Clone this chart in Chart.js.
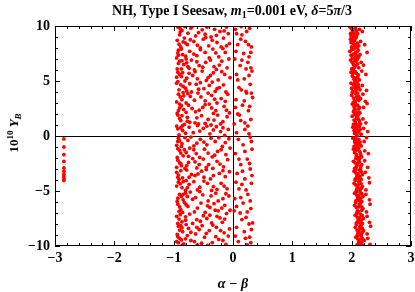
<!DOCTYPE html>
<html>
<head>
<meta charset="utf-8">
<script src="https://cdn.jsdelivr.net/npm/chart.js@4.4.1/dist/chart.umd.min.js"></script>
<style>
  body { margin: 0; background: #fff; }
  #c { display: block; }
</style>
</head>
<body>
<canvas id="c" width="415" height="292"></canvas>
<script>
// axis ranges and ticks
const xRange = [-3, 3];
const yRange = [-10, 10];
const xTickStep = 1;
const yTickStep = 5;

// the short column near alpha-beta = -2.85
const tailPoints = [
  [-2.85, -0.27], [-2.85, -1.0], [-2.85, -1.7], [-2.85, -2.3], [-2.85, -2.9],
  [-2.85, -3.2], [-2.85, -3.5], [-2.85, -3.7], [-2.85, -3.9], [-2.85, -4.05]
];

// wide band just left of zero
const midBand = [
  [-0.93,9.9],[-0.86,9.6],[-0.71,9.8],[-0.58,9.4],[-0.44,9.9],[-0.31,9.7],[-0.22,9.5],[-0.11,9.9],[-0.9,9.2],[-0.63,9.1],[-0.37,9.0],[-0.08,9.3],
  [-0.94,8.7],[-0.82,8.9],[-0.77,8.3],[-0.66,8.6],[-0.5,8.8],[-0.41,8.2],[-0.27,8.5],[-0.16,8.9],[-0.06,8.4],[-0.88,8.1],[-0.55,8.0],[-0.2,8.1],
  [-0.92,7.8],[-0.85,7.4],[-0.73,7.7],[-0.61,7.3],[-0.47,7.6],[-0.34,7.9],[-0.24,7.2],[-0.13,7.6],[-0.95,7.1],[-0.79,7.0],[-0.4,7.1],[-0.07,7.0],
  [-0.9,6.8],[-0.83,6.5],[-0.7,6.9],[-0.57,6.4],[-0.46,6.7],[-0.32,6.3],[-0.19,6.8],[-0.1,6.2],[-0.94,6.1],[-0.65,6.0],[-0.28,6.05],[-0.76,6.3],
  [-0.93,5.8],[-0.87,5.4],[-0.74,5.7],[-0.6,5.2],[-0.52,5.9],[-0.38,5.5],[-0.25,5.1],[-0.14,5.6],[-0.05,5.3],[-0.81,5.0],[-0.45,5.05],[-0.68,5.5],
  [-0.95,4.8],[-0.84,4.5],[-0.78,4.1],[-0.62,4.7],[-0.49,4.3],[-0.35,4.9],[-0.23,4.4],[-0.12,4.0],[-0.91,4.2],[-0.7,4.0],[-0.3,4.05],[-0.55,4.85],
  [-0.92,3.8],[-0.86,3.3],[-0.72,3.6],[-0.59,3.9],[-0.47,3.2],[-0.36,3.7],[-0.2,3.4],[-0.09,3.8],[-0.95,3.1],[-0.79,3.0],[-0.65,3.25],[-0.27,3.0],
  [-0.9,2.9],[-0.83,2.4],[-0.75,2.8],[-0.63,2.2],[-0.51,2.6],[-0.4,2.9],[-0.29,2.3],[-0.15,2.7],[-0.06,2.1],[-0.94,2.05],[-0.69,2.5],[-0.33,2.05],
  [-0.93,1.9],[-0.88,1.4],[-0.77,1.7],[-0.64,1.2],[-0.53,1.85],[-0.42,1.5],[-0.26,1.9],[-0.17,1.3],[-0.1,1.75],[-0.82,1.05],[-0.58,1.1],[-0.37,1.0],
  [-0.95,0.9],[-0.85,0.5],[-0.74,0.8],[-0.67,0.3],[-0.5,0.7],[-0.39,0.2],[-0.28,0.85],[-0.21,0.4],[-0.08,0.6],[-0.91,0.1],[-0.6,0.95],[-0.14,0.05],
  [-0.92,-0.2],[-0.86,-0.7],[-0.76,-0.4],[-0.66,-0.9],[-0.55,-0.3],[-0.44,-0.8],[-0.3,-0.5],[-0.18,-0.95],[-0.07,-0.25],[-0.95,-0.85],[-0.71,-0.1],[-0.24,-0.15],
  [-0.9,-1.3],[-0.84,-1.8],[-0.73,-1.1],[-0.62,-1.6],[-0.48,-1.2],[-0.35,-1.9],[-0.26,-1.4],[-0.12,-1.7],[-0.94,-1.95],[-0.79,-1.5],[-0.56,-1.95],[-0.05,-1.1],
  [-0.93,-2.2],[-0.87,-2.7],[-0.75,-2.4],[-0.61,-2.9],[-0.5,-2.1],[-0.41,-2.6],[-0.27,-2.3],[-0.16,-2.8],[-0.09,-2.15],[-0.81,-2.95],[-0.68,-2.05],[-0.34,-2.95],
  [-0.95,-3.3],[-0.85,-3.8],[-0.78,-3.1],[-0.64,-3.6],[-0.53,-3.2],[-0.38,-3.9],[-0.23,-3.4],[-0.13,-3.7],[-0.91,-3.95],[-0.7,-3.5],[-0.45,-3.05],[-0.06,-3.25],
  [-0.92,-4.2],[-0.86,-4.7],[-0.74,-4.4],[-0.6,-4.9],[-0.49,-4.1],[-0.33,-4.6],[-0.2,-4.3],[-0.1,-4.8],[-0.95,-4.55],[-0.8,-4.95],[-0.66,-4.15],[-0.27,-4.85],
  [-0.9,-5.3],[-0.84,-5.8],[-0.72,-5.1],[-0.63,-5.6],[-0.51,-5.35],[-0.42,-5.9],[-0.29,-5.2],[-0.17,-5.7],[-0.07,-5.45],[-0.94,-5.95],[-0.77,-5.5],[-0.56,-5.05],
  [-0.93,-6.2],[-0.88,-6.7],[-0.76,-6.4],[-0.65,-6.9],[-0.54,-6.1],[-0.39,-6.5],[-0.25,-6.8],[-0.14,-6.3],[-0.05,-6.75],[-0.82,-6.05],[-0.47,-6.95],[-0.32,-6.15],
  [-0.95,-7.3],[-0.86,-7.8],[-0.73,-7.1],[-0.61,-7.6],[-0.5,-7.25],[-0.36,-7.9],[-0.22,-7.45],[-0.11,-7.05],[-0.91,-7.55],[-0.68,-7.95],[-0.44,-7.5],[-0.18,-7.85],
  [-0.92,-8.2],[-0.85,-8.7],[-0.75,-8.4],[-0.63,-8.9],[-0.52,-8.15],[-0.4,-8.6],[-0.28,-8.3],[-0.15,-8.8],[-0.06,-8.45],[-0.94,-8.95],[-0.79,-8.05],[-0.57,-8.5],
  [-0.9,-9.3],[-0.83,-9.8],[-0.71,-9.5],[-0.6,-9.9],[-0.48,-9.2],[-0.35,-9.7],[-0.24,-9.4],[-0.12,-9.85],[-0.95,-9.6],[-0.77,-9.05],[-0.43,-9.95],[-0.08,-9.1],
  [-0.89,9.45],[-0.8,8.45],[-0.92,7.35],[-0.87,6.1],[-0.95,5.35],[-0.83,3.65],[-0.9,2.55],[-0.85,0.95],[-0.93,-0.5],[-0.88,-2.5],[-0.92,-3.55],[-0.84,-5.3],
  [-0.9,-6.45],[-0.86,-8.35],[-0.93,-9.15],[-0.81,9.95],[-0.78,6.65],[-0.8,4.35],[-0.77,1.35],[-0.82,-1.25],[-0.79,-4.05],[-0.8,-7.35],[-0.87,-9.45],
  [-0.89,9.75],[-0.76,9.35],[-0.52,9.65],[-0.28,9.15],[-0.15,9.55],[-0.69,9.95],[-0.47,9.25],
  [-0.91,8.35],[-0.72,8.75],[-0.6,8.25],[-0.35,8.7],[-0.11,8.2],[-0.84,8.55],[-0.46,8.95],
  [-0.87,7.9],[-0.66,7.45],[-0.55,7.85],[-0.29,7.55],[-0.17,7.95],[-0.93,7.55],[-0.8,7.25],
  [-0.86,6.85],[-0.74,6.15],[-0.61,6.75],[-0.38,6.9],[-0.23,6.45],[-0.92,6.6],[-0.51,6.25],
  [-0.9,5.6],[-0.78,5.25],[-0.64,5.85],[-0.42,5.3],[-0.19,5.85],[-0.85,5.75],[-0.33,5.75],
  [-0.88,4.65],[-0.73,4.75],[-0.58,4.25],[-0.4,4.6],[-0.16,4.65],[-0.93,4.95],[-0.27,4.3],
  [-0.89,3.55],[-0.76,3.85],[-0.54,3.55],[-0.31,3.35],[-0.13,3.15],[-0.84,3.95],[-0.42,3.9],
  [-0.87,2.75],[-0.79,2.15],[-0.57,2.35],[-0.36,2.55],[-0.11,2.35],[-0.92,2.3],[-0.47,2.85],
  [-0.9,1.6],[-0.73,1.25],[-0.61,1.65],[-0.47,1.15],[-0.32,1.45],[-0.86,1.85],[-0.21,1.1],
  [-0.93,0.65],[-0.8,0.25],[-0.56,0.45],[-0.44,0.9],[-0.33,0.55],[-0.88,0.75],[-0.17,0.75],
  [-0.9,-0.45],[-0.81,-0.15],[-0.61,-0.65],[-0.49,-0.55],[-0.37,-0.2],[-0.87,-0.95],[-0.13,-0.6],
  [-0.88,-1.55],[-0.75,-1.85],[-0.66,-1.25],[-0.42,-1.55],[-0.2,-1.25],[-0.93,-1.15],[-0.31,-1.75],
  [-0.9,-2.45],[-0.78,-2.7],[-0.64,-2.35],[-0.45,-2.85],[-0.22,-2.55],[-0.95,-2.85],[-0.57,-2.6],
  [-0.88,-3.15],[-0.74,-3.75],[-0.59,-3.45],[-0.33,-3.6],[-0.17,-3.15],[-0.93,-3.75],[-0.49,-3.75],
  [-0.89,-4.35],[-0.77,-4.7],[-0.56,-4.65],[-0.43,-4.3],[-0.15,-4.55],[-0.84,-4.15],[-0.36,-4.95],
  [-0.93,-5.65],[-0.8,-5.2],[-0.68,-5.75],[-0.37,-5.45],[-0.12,-5.25],[-0.87,-5.5],[-0.25,-5.9],
  [-0.91,-6.85],[-0.79,-6.25],[-0.6,-6.55],[-0.43,-6.35],[-0.19,-6.55],[-0.85,-6.95],[-0.3,-6.75],
  [-0.89,-7.15],[-0.8,-7.65],[-0.55,-7.75],[-0.39,-7.2],[-0.14,-7.55],[-0.93,-7.95],[-0.27,-7.3],
  [-0.9,-8.55],[-0.71,-8.75],[-0.61,-8.3],[-0.45,-8.85],[-0.21,-8.6],[-0.88,-8.15],[-0.34,-8.1],
  [-0.92,-9.7],[-0.8,-9.35],[-0.65,-9.6],[-0.53,-9.75],[-0.29,-9.15],[-0.86,-9.95],[-0.17,-9.5]
];

// thinner band just right of zero
const nearZeroBand = [
  [0.04,9.7],[0.15,9.2],[0.28,9.8],[0.21,8.6],[0.31,8.1],[0.08,8.3],[0.18,7.5],[0.27,7.2],[0.03,7.0],[0.12,6.4],
  [0.25,6.7],[0.32,5.9],[0.06,5.6],[0.19,5.2],[0.29,4.7],[0.1,4.4],[0.23,3.9],[0.33,3.5],[0.05,3.3],[0.16,2.8],
  [0.26,2.3],[0.11,1.9],[0.3,1.5],[0.02,1.1],[0.2,0.6],[0.27,0.2],[0.09,-0.3],[0.17,-0.8],[0.32,-1.2],[0.04,-1.6],
  [0.24,-2.1],[0.13,-2.6],[0.29,-3.0],[0.07,-3.4],[0.2,-3.9],[0.31,-4.3],[0.1,-4.8],[0.25,-5.3],[0.03,-5.7],[0.17,-6.1],
  [0.3,-6.6],[0.12,-7.0],[0.22,-7.4],[0.33,-7.9],[0.06,-8.3],[0.19,-8.7],[0.28,-9.2],[0.09,-9.6],[0.24,-9.9],[0.14,9.95],
  [0.3,6.2],[0.22,4.05],[0.08,2.0],[0.31,-0.5],[0.15,-4.4],[0.27,-8.0],[0.02,-6.8],[0.2,1.2],
  [0.06,9.3],[0.23,9.5],[0.13,8.8],[0.26,8.3],[0.05,7.7],[0.3,7.6],[0.15,6.9],[0.22,6.1],[0.08,5.1],[0.27,5.5],
  [0.14,4.2],[0.31,3.9],[0.19,3.2],[0.04,2.6],[0.28,2.7],[0.13,1.4],[0.25,0.9],[0.06,0.3],[0.29,-0.1],[0.2,-1.4],
  [0.1,-2.1],[0.28,-2.5],[0.16,-3.2],[0.32,-3.6],[0.05,-4.2],[0.22,-4.9],[0.13,-5.6],[0.29,-5.9],[0.06,-6.4],[0.24,-6.9],
  [0.15,-7.6],[0.31,-8.5],[0.04,-9.1],[0.21,-9.3],[0.3,-9.7]
];

// dense band around alpha-beta = 2.1
const rightBand = [
  [1.97,9.9],[2.02,9.6],[2.06,9.8],[2.1,9.3],[1.99,9.1],[2.13,9.7],[2.04,9.2],[2.18,9.5],[2.01,9.45],[2.08,9.05],
  [1.98,8.8],[2.03,8.4],[2.07,8.9],[2.12,8.2],[2.0,8.1],[2.15,8.6],[2.05,8.65],[2.22,8.3],[2.09,8.05],[1.99,8.5],
  [1.97,7.7],[2.04,7.9],[2.08,7.3],[2.11,7.8],[2.01,7.1],[2.14,7.4],[2.06,7.55],[2.26,7.6],[1.99,7.35],[2.1,7.05],
  [1.98,6.9],[2.03,6.5],[2.07,6.8],[2.12,6.2],[2.0,6.1],[2.16,6.7],[2.05,6.3],[2.2,6.45],[2.09,6.95],[2.02,6.05],
  [1.99,5.8],[2.04,5.3],[2.08,5.7],[2.13,5.1],[2.01,5.45],[2.17,5.9],[2.06,5.05],[2.24,5.6],[2.1,5.35],[2.03,5.95],
  [1.99,4.8],[2.05,4.4],[2.09,4.9],[2.14,4.2],[2.02,4.05],[2.18,4.6],[2.07,4.55],[2.25,4.15],[2.11,4.7],[2.0,4.35],
  [2.0,3.7],[2.05,3.2],[2.1,3.9],[2.15,3.4],[2.03,3.05],[2.19,3.8],[2.08,3.55],[2.23,3.15],[2.12,3.25],[2.01,3.95],
  [2.01,2.9],[2.06,2.4],[2.1,2.8],[2.14,2.1],[2.03,2.2],[2.2,2.6],[2.08,2.05],[2.26,2.95],[2.12,2.45],[2.04,2.65],
  [2.01,1.8],[2.06,1.3],[2.11,1.9],[2.15,1.1],[2.03,1.05],[2.19,1.55],[2.08,1.6],[2.24,1.2],[2.13,1.4],[2.05,1.95],
  [2.02,0.8],[2.07,0.3],[2.11,0.9],[2.16,0.15],[2.04,0.5],[2.2,0.7],[2.09,0.05],[2.27,0.4],[2.14,0.6],[2.06,0.95],
  [2.02,-0.2],[2.07,-0.7],[2.12,-0.3],[2.16,-0.9],[2.04,-0.95],[2.21,-0.5],[2.09,-0.45],[2.25,-0.15],[2.14,-0.8],[2.05,-0.55],
  [2.03,-1.2],[2.08,-1.7],[2.12,-1.1],[2.17,-1.9],[2.05,-1.5],[2.22,-1.35],[2.1,-1.95],[2.28,-1.6],[2.14,-1.45],[2.06,-1.05],
  [2.03,-2.3],[2.08,-2.8],[2.13,-2.1],[2.17,-2.6],[2.05,-2.95],[2.22,-2.25],[2.1,-2.5],[2.27,-2.85],[2.15,-2.95],[2.07,-2.05],
  [2.04,-3.2],[2.09,-3.7],[2.13,-3.1],[2.18,-3.5],[2.06,-3.9],[2.23,-3.3],[2.11,-3.45],[2.29,-3.8],[2.16,-3.95],[2.07,-3.05],
  [2.04,-4.3],[2.09,-4.8],[2.14,-4.1],[2.18,-4.6],[2.06,-4.05],[2.24,-4.9],[2.11,-4.45],[2.3,-4.25],[2.16,-4.75],[2.08,-4.95],
  [2.05,-5.2],[2.1,-5.7],[2.14,-5.1],[2.19,-5.5],[2.07,-5.9],[2.24,-5.3],[2.12,-5.4],[2.3,-5.8],[2.17,-5.95],[2.08,-5.05],
  [2.05,-6.3],[2.1,-6.8],[2.15,-6.1],[2.19,-6.6],[2.07,-6.05],[2.25,-6.9],[2.12,-6.45],[2.31,-6.2],[2.17,-6.75],[2.09,-6.95],
  [2.06,-7.2],[2.11,-7.7],[2.15,-7.1],[2.2,-7.5],[2.08,-7.9],[2.26,-7.3],[2.13,-7.4],[2.3,-7.85],[2.18,-7.95],[2.09,-7.05],
  [2.06,-8.3],[2.11,-8.8],[2.16,-8.1],[2.2,-8.6],[2.08,-8.05],[2.26,-8.9],[2.13,-8.45],[2.32,-8.2],[2.18,-8.75],[2.1,-8.95],
  [2.07,-9.2],[2.12,-9.7],[2.16,-9.1],[2.21,-9.5],[2.09,-9.9],[2.27,-9.3],[2.14,-9.4],[2.31,-9.85],[2.19,-9.95],[2.1,-9.05],
  [2.0,9.75],[2.04,9.35],[2.08,9.55],[2.03,9.0],[1.98,9.3],
  [2.01,8.9],[2.05,8.2],[2.1,8.45],[2.02,8.7],[2.07,8.3],
  [2.0,7.85],[2.06,7.15],[2.03,7.45],[2.09,7.65],[2.12,7.2],
  [2.01,6.7],[2.05,6.95],[2.1,6.55],[2.04,6.2],[2.07,6.4],
  [2.02,5.65],[2.06,5.85],[2.11,5.55],[2.04,5.15],[2.08,5.25],
  [2.03,4.65],[2.07,4.15],[2.12,4.45],[2.05,4.85],[2.09,4.3],
  [2.03,3.45],[2.07,3.85],[2.12,3.6],[2.06,3.1],[2.1,3.35],
  [2.04,2.35],[2.08,2.75],[2.13,2.6],[2.06,2.95],[2.1,2.15],
  [2.04,1.45],[2.09,1.75],[2.13,1.15],[2.07,1.05],[2.11,1.55],
  [2.05,0.25],[2.09,0.55],[2.13,0.85],[2.07,0.7],[2.12,0.35],
  [2.05,-0.35],[2.1,-0.85],[2.14,-0.55],[2.07,-0.15],[2.12,-0.65],
  [2.06,-1.35],[2.1,-1.25],[2.15,-1.65],[2.08,-1.85],[2.13,-1.95],
  [2.06,-2.45],[2.11,-2.15],[2.15,-2.75],[2.09,-2.65],[2.13,-2.35],
  [2.07,-3.35],[2.11,-3.85],[2.16,-3.25],[2.09,-3.6],[2.14,-3.7],
  [2.07,-4.45],[2.12,-4.15],[2.16,-4.35],[2.1,-4.65],[2.14,-4.9],
  [2.08,-5.35],[2.12,-5.85],[2.17,-5.25],[2.1,-5.55],[2.15,-5.65],
  [2.08,-6.5],[2.13,-6.25],[2.17,-6.45],[2.11,-6.85],[2.15,-6.05],
  [2.09,-7.35],[2.13,-7.85],[2.18,-7.25],[2.11,-7.55],[2.16,-7.65],
  [2.09,-8.55],[2.14,-8.2],[2.18,-8.4],[2.12,-8.65],[2.16,-8.95],
  [2.1,-9.35],[2.14,-9.85],[2.18,-9.3],[2.12,-9.6],[2.17,-9.65]
];

const serif = "'Liberation Serif', 'DejaVu Serif', serif";

function toXY(list) {
  return list.map(p => ({ x: p[0], y: p[1] }));
}

function minusFmt(v) {
  return v < 0 ? '\u2212' + Math.abs(v) : String(v);
}

// draws a line of mixed-font text, centred on x
function drawRuns(ctx, runs, x, y) {
  let total = 0;
  runs.forEach(r => { ctx.font = r.f; total += ctx.measureText(r.t).width; });
  let cx = x - total / 2;
  runs.forEach(r => {
    ctx.font = r.f;
    ctx.fillText(r.t, cx, y + (r.dy || 0));
    cx += ctx.measureText(r.t).width;
  });
}

const framePlugin = {
  id: 'frame',
  beforeDatasetsDraw(chart) {
    const { ctx, chartArea: a, scales } = chart;
    ctx.save();
    ctx.strokeStyle = '#000';
    ctx.lineWidth = 1;
    const x0 = Math.round(scales.x.getPixelForValue(0)) + 0.5;
    const y0 = Math.round(scales.y.getPixelForValue(0)) + 0.5;
    ctx.beginPath();
    ctx.moveTo(x0, a.top); ctx.lineTo(x0, a.bottom);
    ctx.moveTo(a.left, y0); ctx.lineTo(a.right, y0);
    ctx.stroke();
    ctx.restore();
  },
  afterDraw(chart) {
    const { ctx, chartArea: a, scales } = chart;
    ctx.save();
    ctx.strokeStyle = '#000';
    ctx.lineWidth = 1;
    ctx.strokeRect(a.left + 0.5, a.top + 0.5, a.right - a.left - 1, a.bottom - a.top - 1);

    // inward frame ticks
    ctx.beginPath();
    for (let i = 0; i <= 30; i++) {
      const v = xRange[0] + i * 0.2;
      const px = Math.round(scales.x.getPixelForValue(v)) + 0.5;
      const len = i % 5 === 0 ? 5 : 3;
      ctx.moveTo(px, a.bottom); ctx.lineTo(px, a.bottom - len);
      ctx.moveTo(px, a.top); ctx.lineTo(px, a.top + len);
    }
    for (let v = yRange[0]; v <= yRange[1]; v++) {
      const py = Math.round(scales.y.getPixelForValue(v)) + 0.5;
      const len = v % 5 === 0 ? 5 : 3;
      ctx.moveTo(a.left, py); ctx.lineTo(a.left + len, py);
      ctx.moveTo(a.right, py); ctx.lineTo(a.right - len, py);
    }
    ctx.stroke();

    ctx.fillStyle = '#000';
    ctx.textBaseline = 'alphabetic';
    // title
    drawRuns(ctx, [
      { t: 'NH, Type I Seesaw, ', f: 'bold 14px ' + serif },
      { t: 'm', f: 'bold italic 14px ' + serif },
      { t: '1', f: 'bold 10px ' + serif, dy: 3 },
      { t: '=0.001 eV, ', f: 'bold 14px ' + serif },
      { t: '\u03b4', f: 'bold italic 14px ' + serif },
      { t: '=5', f: 'bold 14px ' + serif },
      { t: '\u03c0', f: 'bold italic 14px ' + serif },
      { t: '/3', f: 'bold 14px ' + serif }
    ], 232, 15);

    // x axis title
    drawRuns(ctx, [
      { t: '\u03b1 \u2212 \u03b2', f: 'bold italic 14px ' + serif }
    ], 233, 288);

    // y axis title, rotated
    ctx.translate(18, 133);
    ctx.rotate(-Math.PI / 2);
    drawRuns(ctx, [
      { t: '10', f: 'bold 13px ' + serif },
      { t: '10', f: 'bold 9px ' + serif, dy: -5 },
      { t: ' ', f: 'bold 13px ' + serif },
      { t: 'Y', f: 'bold italic 13px ' + serif },
      { t: 'B', f: 'bold italic 9px ' + serif, dy: 3 }
    ], 0, 0);
    ctx.restore();
  }
};

function bandSet(list) {
  return {
    data: toXY(list),
    backgroundColor: '#ff0000',
    borderWidth: 0,
    pointRadius: 1.9,
    pointHoverRadius: 1.9
  };
}

new Chart(document.getElementById('c'), {
  type: 'scatter',
  data: {
    datasets: [bandSet(tailPoints), bandSet(midBand), bandSet(nearZeroBand), bandSet(rightBand)]
  },
  options: {
    responsive: false,
    animation: false,
    layout: { padding: { top: 26, left: 0, right: 4, bottom: 0 } },
    plugins: { legend: { display: false }, tooltip: { enabled: false } },
    scales: {
      x: {
        type: 'linear',
        min: xRange[0],
        max: xRange[1],
        grid: { display: false, drawTicks: false },
        border: { display: false },
        ticks: {
          stepSize: xTickStep,
          padding: 4,
          color: '#000',
          font: { family: serif, size: 14, weight: 'bold' },
          callback: minusFmt
        },
        afterFit: s => { s.height = 46; s.paddingLeft = 0; s.paddingRight = 0; }
      },
      y: {
        min: yRange[0],
        max: yRange[1],
        grid: { display: false, drawTicks: false },
        border: { display: false },
        ticks: {
          stepSize: yTickStep,
          padding: 5,
          color: '#000',
          font: { family: serif, size: 14, weight: 'bold' },
          callback: minusFmt
        },
        afterFit: s => { s.width = 55; s.paddingTop = 0; s.paddingBottom = 0; }
      }
    }
  },
  plugins: [framePlugin]
});
</script>
</body>
</html>
